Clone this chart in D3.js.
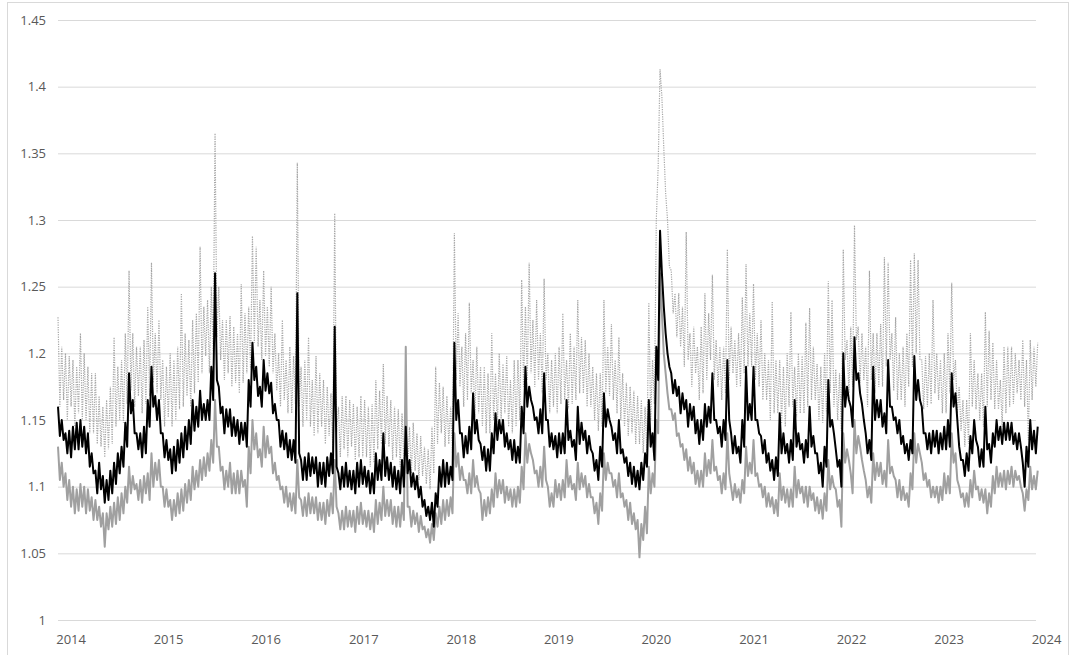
<!DOCTYPE html>
<html>
<head>
<meta charset="utf-8">
<script src="https://cdn.jsdelivr.net/npm/d3@7"></script>
<style>
  body { margin: 0; background: #fff; }
  svg { display: block; }
  .tick text { font-family: "Open Sans", "Noto Sans", sans-serif; font-size: 13px; fill: #595959; }
</style>
</head>
<body>
<svg id="chart" width="1071" height="655"></svg>
<script>
// Weekly readings, first one on startDate
const startDate = "2013-11-15";
const stepDays = 7;

const yTicks = [1, 1.05, 1.1, 1.15, 1.2, 1.25, 1.3, 1.35, 1.4, 1.45];
const yTickLabels = ["1", "1.05", "1.1", "1.15", "1.2", "1.25", "1.3", "1.35", "1.4", "1.45"];
const yearLabels = ["2014", "2015", "2016", "2017", "2018", "2019", "2020", "2021", "2022", "2023", "2024"];

// Upper band (dotted)
const upper = [
  1.227,1.160,1.205,1.165,1.200,1.150,1.198,1.160,1.195,1.145,1.190,1.155,1.215,1.150,1.200,1.150,1.190,1.140,1.185,1.140,1.185,1.132,1.168,1.130,1.160,1.122,1.165,1.128,1.175,1.132,1.212,1.145,1.190,1.150,1.195,1.148,1.215,1.162,1.262,1.172,1.215,1.160,1.205,1.168,1.205,1.155,1.210,1.162,1.235,1.168,1.268,1.178,1.215,1.170,1.225,1.165,
  1.195,1.145,1.190,1.152,1.200,1.145,1.195,1.150,1.205,1.158,1.245,1.160,1.215,1.168,1.210,1.160,1.225,1.170,1.230,1.178,1.280,1.185,1.235,1.198,1.240,1.185,1.250,1.202,1.365,1.212,1.250,1.195,1.225,1.180,1.225,1.185,1.228,1.175,1.220,1.178,1.215,1.170,1.252,1.178,1.230,1.185,1.235,1.188,1.288,1.208,1.280,1.205,1.240,1.195,
  1.262,1.198,1.235,1.190,1.250,1.185,1.215,1.172,1.200,1.160,1.225,1.165,1.195,1.155,1.205,1.155,1.198,1.162,1.343,1.160,1.190,1.145,1.195,1.150,1.212,1.145,1.180,1.138,1.198,1.140,1.185,1.145,1.180,1.132,1.175,1.138,1.170,1.128,1.305,1.140,1.160,1.122,1.168,1.128,1.168,1.122,1.165,1.130,1.162,1.120,1.160,1.122,
  1.168,1.122,1.165,1.122,1.160,1.115,1.162,1.118,1.180,1.128,1.172,1.132,1.192,1.132,1.168,1.130,1.165,1.120,1.160,1.122,1.158,1.115,1.155,1.118,1.150,1.112,1.145,1.110,1.148,1.112,1.140,1.105,1.138,1.108,1.130,1.102,1.128,1.098,1.145,1.110,1.190,1.132,1.178,1.140,1.175,1.130,1.168,1.132,1.160,1.125,1.290,1.180,1.230,1.175,1.205,1.160,
  1.215,1.165,1.238,1.170,1.195,1.152,1.205,1.155,1.190,1.145,1.190,1.140,1.185,1.140,1.215,1.150,1.185,1.145,1.200,1.150,1.192,1.155,1.198,1.145,1.180,1.140,1.195,1.145,1.195,1.150,1.255,1.175,1.235,1.180,1.268,1.185,1.225,1.175,1.240,1.180,1.215,1.170,1.256,1.180,1.200,1.155,1.195,1.160,
  1.200,1.155,1.205,1.162,1.230,1.165,1.195,1.158,1.215,1.162,1.205,1.165,1.240,1.170,1.212,1.170,1.210,1.160,1.200,1.160,1.190,1.150,1.185,1.142,1.185,1.145,1.240,1.170,1.205,1.168,1.222,1.165,1.195,1.155,1.212,1.150,1.185,1.145,1.178,1.138,1.175,1.140,1.172,1.132,1.168,1.132,1.165,1.125,1.160,1.125,1.238,1.150,1.195,1.162,1.300,1.340,1.413,1.392,1.354,1.320,1.300,1.265,1.262,1.230,1.245,1.212,
  1.245,1.205,1.235,1.190,1.291,1.195,1.215,1.175,1.220,1.185,1.205,1.165,1.220,1.170,1.245,1.180,1.230,1.195,1.259,1.180,1.210,1.175,1.205,1.165,1.205,1.170,1.278,1.180,1.220,1.185,1.210,1.175,1.215,1.175,1.242,1.185,1.267,1.190,
  1.230,1.190,1.252,1.180,1.215,1.175,1.225,1.165,1.200,1.165,1.195,1.150,1.239,1.155,1.195,1.155,1.195,1.148,1.190,1.145,1.200,1.160,1.231,1.160,1.190,1.152,1.200,1.155,1.198,1.155,1.223,1.160,1.234,1.165,1.205,1.165,1.192,1.150,1.190,1.148,1.200,1.155,1.254,1.170,1.240,1.160,1.188,1.150,1.185,1.142,1.278,1.195,1.210,1.170,
  1.220,1.175,1.296,1.210,1.220,1.178,1.215,1.180,1.205,1.160,1.262,1.180,1.215,1.170,1.215,1.175,1.222,1.175,1.272,1.190,1.268,1.195,1.215,1.172,1.227,1.165,1.200,1.165,1.205,1.160,1.215,1.175,1.270,1.190,1.275,1.200,1.270,1.195,1.195,1.158,1.198,1.160,1.200,1.162,1.240,1.170,1.200,1.165,1.195,1.155,
  1.200,1.155,1.215,1.170,1.253,1.180,1.195,1.155,1.175,1.142,1.165,1.130,1.165,1.132,1.215,1.160,1.195,1.158,1.185,1.150,1.185,1.145,1.231,1.160,1.217,1.165,1.208,1.158,1.195,1.158,1.180,1.145,1.205,1.155,1.205,1.160,1.205,1.162,1.200,1.170,1.195,1.165,1.210,1.160,1.195,1.135,1.210,1.165,1.205,1.175,1.208
];

// Central series (black)
const middle = [
  1.160,1.138,1.150,1.135,1.140,1.125,1.142,1.122,1.145,1.128,1.148,1.128,1.150,1.130,1.145,1.125,1.140,1.115,1.125,1.110,1.112,1.095,1.118,1.098,1.108,1.088,1.105,1.090,1.112,1.095,1.118,1.102,1.125,1.110,1.130,1.115,1.148,1.130,1.185,1.155,1.165,1.140,1.140,1.128,1.140,1.122,1.145,1.125,1.165,1.145,1.190,1.160,1.168,1.150,1.165,1.140,
  1.140,1.122,1.135,1.120,1.128,1.110,1.130,1.112,1.135,1.118,1.140,1.122,1.145,1.128,1.150,1.132,1.165,1.142,1.160,1.145,1.172,1.150,1.162,1.150,1.165,1.150,1.190,1.165,1.260,1.180,1.175,1.155,1.160,1.140,1.158,1.145,1.158,1.138,1.152,1.138,1.150,1.132,1.148,1.135,1.148,1.130,1.180,1.160,1.208,1.180,1.190,1.168,1.175,1.160,
  1.195,1.172,1.185,1.170,1.178,1.155,1.162,1.150,1.150,1.130,1.142,1.128,1.140,1.122,1.135,1.120,1.135,1.118,1.245,1.125,1.120,1.105,1.122,1.105,1.125,1.108,1.122,1.110,1.122,1.100,1.118,1.102,1.118,1.100,1.122,1.108,1.125,1.110,1.220,1.115,1.110,1.098,1.115,1.100,1.118,1.100,1.112,1.098,1.112,1.095,1.118,1.100,
  1.120,1.102,1.115,1.100,1.112,1.095,1.110,1.095,1.125,1.105,1.120,1.105,1.140,1.108,1.122,1.105,1.118,1.100,1.115,1.098,1.112,1.095,1.120,1.100,1.145,1.110,1.120,1.100,1.110,1.098,1.108,1.092,1.100,1.085,1.090,1.078,1.085,1.075,1.088,1.070,1.095,1.085,1.115,1.100,1.120,1.100,1.118,1.102,1.115,1.105,1.208,1.150,1.165,1.140,1.140,1.122,
  1.138,1.125,1.145,1.128,1.170,1.140,1.150,1.135,1.132,1.120,1.130,1.112,1.128,1.112,1.140,1.125,1.155,1.135,1.150,1.140,1.150,1.130,1.140,1.128,1.135,1.120,1.135,1.118,1.130,1.118,1.160,1.140,1.190,1.160,1.175,1.165,1.160,1.150,1.152,1.140,1.158,1.140,1.185,1.150,1.150,1.130,1.140,1.128,
  1.138,1.122,1.140,1.125,1.140,1.125,1.165,1.135,1.142,1.130,1.135,1.120,1.160,1.132,1.148,1.135,1.142,1.125,1.138,1.128,1.125,1.112,1.120,1.105,1.130,1.115,1.170,1.145,1.158,1.150,1.145,1.135,1.140,1.125,1.150,1.125,1.128,1.118,1.122,1.108,1.118,1.102,1.115,1.100,1.112,1.098,1.118,1.105,1.125,1.115,1.165,1.130,1.140,1.120,1.205,1.180,1.292,1.260,1.235,1.215,1.200,1.190,1.185,1.170,1.180,1.168,
  1.175,1.155,1.170,1.158,1.165,1.145,1.162,1.150,1.160,1.140,1.150,1.132,1.150,1.135,1.162,1.145,1.160,1.148,1.185,1.150,1.150,1.140,1.145,1.130,1.150,1.135,1.195,1.150,1.140,1.125,1.138,1.125,1.130,1.118,1.150,1.130,1.190,1.150,
  1.162,1.150,1.190,1.150,1.150,1.140,1.138,1.125,1.135,1.118,1.125,1.112,1.120,1.105,1.122,1.108,1.155,1.125,1.140,1.125,1.132,1.118,1.135,1.120,1.165,1.130,1.140,1.128,1.132,1.118,1.135,1.122,1.160,1.130,1.138,1.125,1.125,1.110,1.118,1.100,1.130,1.115,1.180,1.145,1.150,1.140,1.128,1.115,1.120,1.100,1.200,1.160,1.175,1.165,
  1.160,1.145,1.212,1.180,1.185,1.170,1.162,1.150,1.140,1.125,1.135,1.120,1.190,1.150,1.165,1.152,1.165,1.145,1.155,1.140,1.195,1.160,1.160,1.150,1.152,1.140,1.150,1.132,1.138,1.125,1.132,1.120,1.135,1.125,1.198,1.165,1.180,1.165,1.160,1.140,1.140,1.128,1.140,1.125,1.142,1.130,1.142,1.125,1.140,1.128,
  1.145,1.128,1.150,1.130,1.185,1.160,1.170,1.150,1.130,1.120,1.120,1.108,1.125,1.112,1.138,1.125,1.150,1.135,1.130,1.115,1.128,1.115,1.160,1.128,1.132,1.118,1.140,1.130,1.150,1.135,1.145,1.132,1.148,1.135,1.148,1.135,1.148,1.132,1.140,1.128,1.140,1.130,1.118,1.100,1.130,1.115,1.150,1.128,1.142,1.125,1.145
];

// Lower band (grey)
const lower = [
  1.130,1.105,1.118,1.100,1.110,1.090,1.105,1.085,1.100,1.080,1.098,1.082,1.102,1.085,1.100,1.080,1.098,1.082,1.092,1.075,1.090,1.075,1.085,1.070,1.080,1.055,1.080,1.068,1.085,1.070,1.088,1.072,1.092,1.075,1.095,1.080,1.100,1.088,1.115,1.095,1.108,1.098,1.102,1.090,1.105,1.088,1.108,1.095,1.110,1.090,1.125,1.100,1.118,1.105,1.120,1.100,
  1.100,1.085,1.098,1.085,1.090,1.075,1.090,1.078,1.095,1.080,1.098,1.082,1.102,1.088,1.105,1.090,1.115,1.098,1.112,1.100,1.120,1.105,1.122,1.108,1.125,1.112,1.135,1.118,1.165,1.130,1.130,1.112,1.115,1.098,1.112,1.100,1.118,1.095,1.110,1.095,1.112,1.095,1.112,1.100,1.105,1.085,1.130,1.110,1.150,1.128,1.140,1.122,1.128,1.115,
  1.145,1.122,1.138,1.125,1.130,1.110,1.118,1.105,1.108,1.098,1.100,1.088,1.100,1.085,1.095,1.082,1.095,1.080,1.120,1.092,1.090,1.078,1.092,1.078,1.095,1.080,1.092,1.080,1.092,1.075,1.088,1.075,1.088,1.072,1.090,1.078,1.095,1.080,1.120,1.085,1.080,1.068,1.082,1.068,1.085,1.070,1.082,1.070,1.082,1.066,1.085,1.072,
  1.088,1.072,1.082,1.070,1.082,1.068,1.080,1.066,1.090,1.072,1.088,1.075,1.100,1.078,1.090,1.078,1.090,1.072,1.085,1.070,1.085,1.070,1.088,1.075,1.205,1.085,1.085,1.070,1.082,1.072,1.080,1.066,1.078,1.068,1.070,1.062,1.068,1.058,1.072,1.060,1.080,1.070,1.085,1.072,1.090,1.075,1.090,1.078,1.092,1.080,1.140,1.115,1.125,1.105,1.115,1.105,
  1.105,1.095,1.110,1.095,1.120,1.100,1.108,1.098,1.095,1.075,1.090,1.078,1.092,1.080,1.098,1.085,1.110,1.092,1.105,1.095,1.105,1.088,1.100,1.090,1.098,1.085,1.098,1.085,1.100,1.088,1.115,1.098,1.140,1.118,1.132,1.125,1.120,1.110,1.112,1.100,1.115,1.100,1.130,1.105,1.100,1.085,1.095,1.085,
  1.105,1.092,1.102,1.090,1.105,1.092,1.120,1.100,1.108,1.098,1.102,1.090,1.118,1.098,1.110,1.100,1.108,1.092,1.102,1.092,1.092,1.080,1.088,1.072,1.095,1.082,1.125,1.105,1.118,1.110,1.110,1.100,1.105,1.092,1.110,1.092,1.095,1.085,1.090,1.075,1.088,1.072,1.080,1.068,1.075,1.047,1.072,1.060,1.085,1.065,1.115,1.095,1.110,1.100,1.150,1.140,1.260,1.230,1.200,1.185,1.170,1.158,1.158,1.150,1.155,1.138,
  1.140,1.130,1.132,1.120,1.128,1.112,1.122,1.110,1.118,1.102,1.112,1.100,1.112,1.100,1.125,1.108,1.120,1.110,1.135,1.112,1.115,1.105,1.108,1.095,1.110,1.098,1.140,1.110,1.100,1.090,1.102,1.092,1.098,1.088,1.105,1.095,1.130,1.108,
  1.118,1.110,1.135,1.108,1.110,1.100,1.102,1.092,1.100,1.085,1.095,1.085,1.092,1.080,1.090,1.078,1.110,1.090,1.100,1.088,1.098,1.085,1.098,1.085,1.115,1.092,1.105,1.095,1.100,1.088,1.100,1.085,1.100,1.090,1.095,1.082,1.092,1.080,1.090,1.076,1.095,1.082,1.120,1.098,1.108,1.100,1.098,1.085,1.090,1.070,1.140,1.118,1.128,1.120,
  1.110,1.095,1.150,1.125,1.138,1.130,1.120,1.112,1.105,1.092,1.100,1.088,1.125,1.105,1.118,1.108,1.118,1.102,1.112,1.100,1.135,1.110,1.115,1.108,1.105,1.092,1.105,1.090,1.100,1.090,1.095,1.085,1.110,1.098,1.140,1.118,1.132,1.125,1.118,1.105,1.110,1.100,1.105,1.092,1.100,1.092,1.100,1.088,1.100,1.090,
  1.110,1.095,1.108,1.095,1.140,1.118,1.125,1.105,1.100,1.092,1.095,1.085,1.095,1.085,1.105,1.092,1.112,1.098,1.100,1.090,1.098,1.088,1.098,1.080,1.095,1.085,1.108,1.095,1.115,1.100,1.110,1.100,1.112,1.098,1.112,1.102,1.115,1.100,1.112,1.105,1.108,1.100,1.095,1.082,1.098,1.090,1.115,1.098,1.108,1.098,1.112
];

const svg = d3.select("#chart");
const plotLeft = 58, plotRight = 1036, plotBottom = 620, plotTop = 20;

// outer frame
svg.append("rect")
  .attr("x", 7.5).attr("y", 2.5)
  .attr("width", 1061).attr("height", 670)
  .attr("fill", "none").attr("stroke", "#d9d9d9");

const parse = d3.utcParse("%Y-%m-%d");
const t0 = parse(startDate);
const dates = middle.map((_, i) => d3.utcDay.offset(t0, i * stepDays));

const x = d3.scaleUtc()
  .domain([t0, parse("2024-01-01")])
  .range([plotLeft, 1046]);

const y = d3.scaleLinear()
  .domain([1, 1.45])
  .range([plotBottom, plotTop]);

// horizontal gridlines with value labels
const yAxis = svg.append("g")
  .attr("transform", `translate(${plotLeft},0)`)
  .call(d3.axisLeft(y)
    .tickValues(yTicks)
    .tickSize(-(plotRight - plotLeft))
    .tickPadding(12)
    .tickFormat((d, i) => yTickLabels[i]));
yAxis.select(".domain").remove();
yAxis.selectAll(".tick line").attr("stroke", "#d9d9d9").attr("stroke-width", 1);

// year labels
const xAxis = svg.append("g")
  .attr("transform", `translate(0,${plotBottom})`)
  .call(d3.axisBottom(x)
    .tickValues(yearLabels.map(s => parse(s + "-01-01")))
    .tickSize(0)
    .tickPadding(15)
    .tickFormat((d, i) => yearLabels[i]));
xAxis.select(".domain").remove();

const line = d3.line()
  .x((d, i) => x(dates[i]))
  .y(d => y(d));

svg.append("path")
  .datum(upper)
  .attr("d", line)
  .attr("fill", "none")
  .attr("stroke", "#a6a6a6")
  .attr("stroke-width", 1.2)
  .attr("stroke-dasharray", "1.2,1.2");

svg.append("path")
  .datum(lower)
  .attr("d", line)
  .attr("fill", "none")
  .attr("stroke", "#a0a0a0")
  .attr("stroke-width", 2)
  .attr("stroke-linejoin", "round");

svg.append("path")
  .datum(middle)
  .attr("d", line)
  .attr("fill", "none")
  .attr("stroke", "#000")
  .attr("stroke-width", 2)
  .attr("stroke-linejoin", "round");
</script>
</body>
</html>
